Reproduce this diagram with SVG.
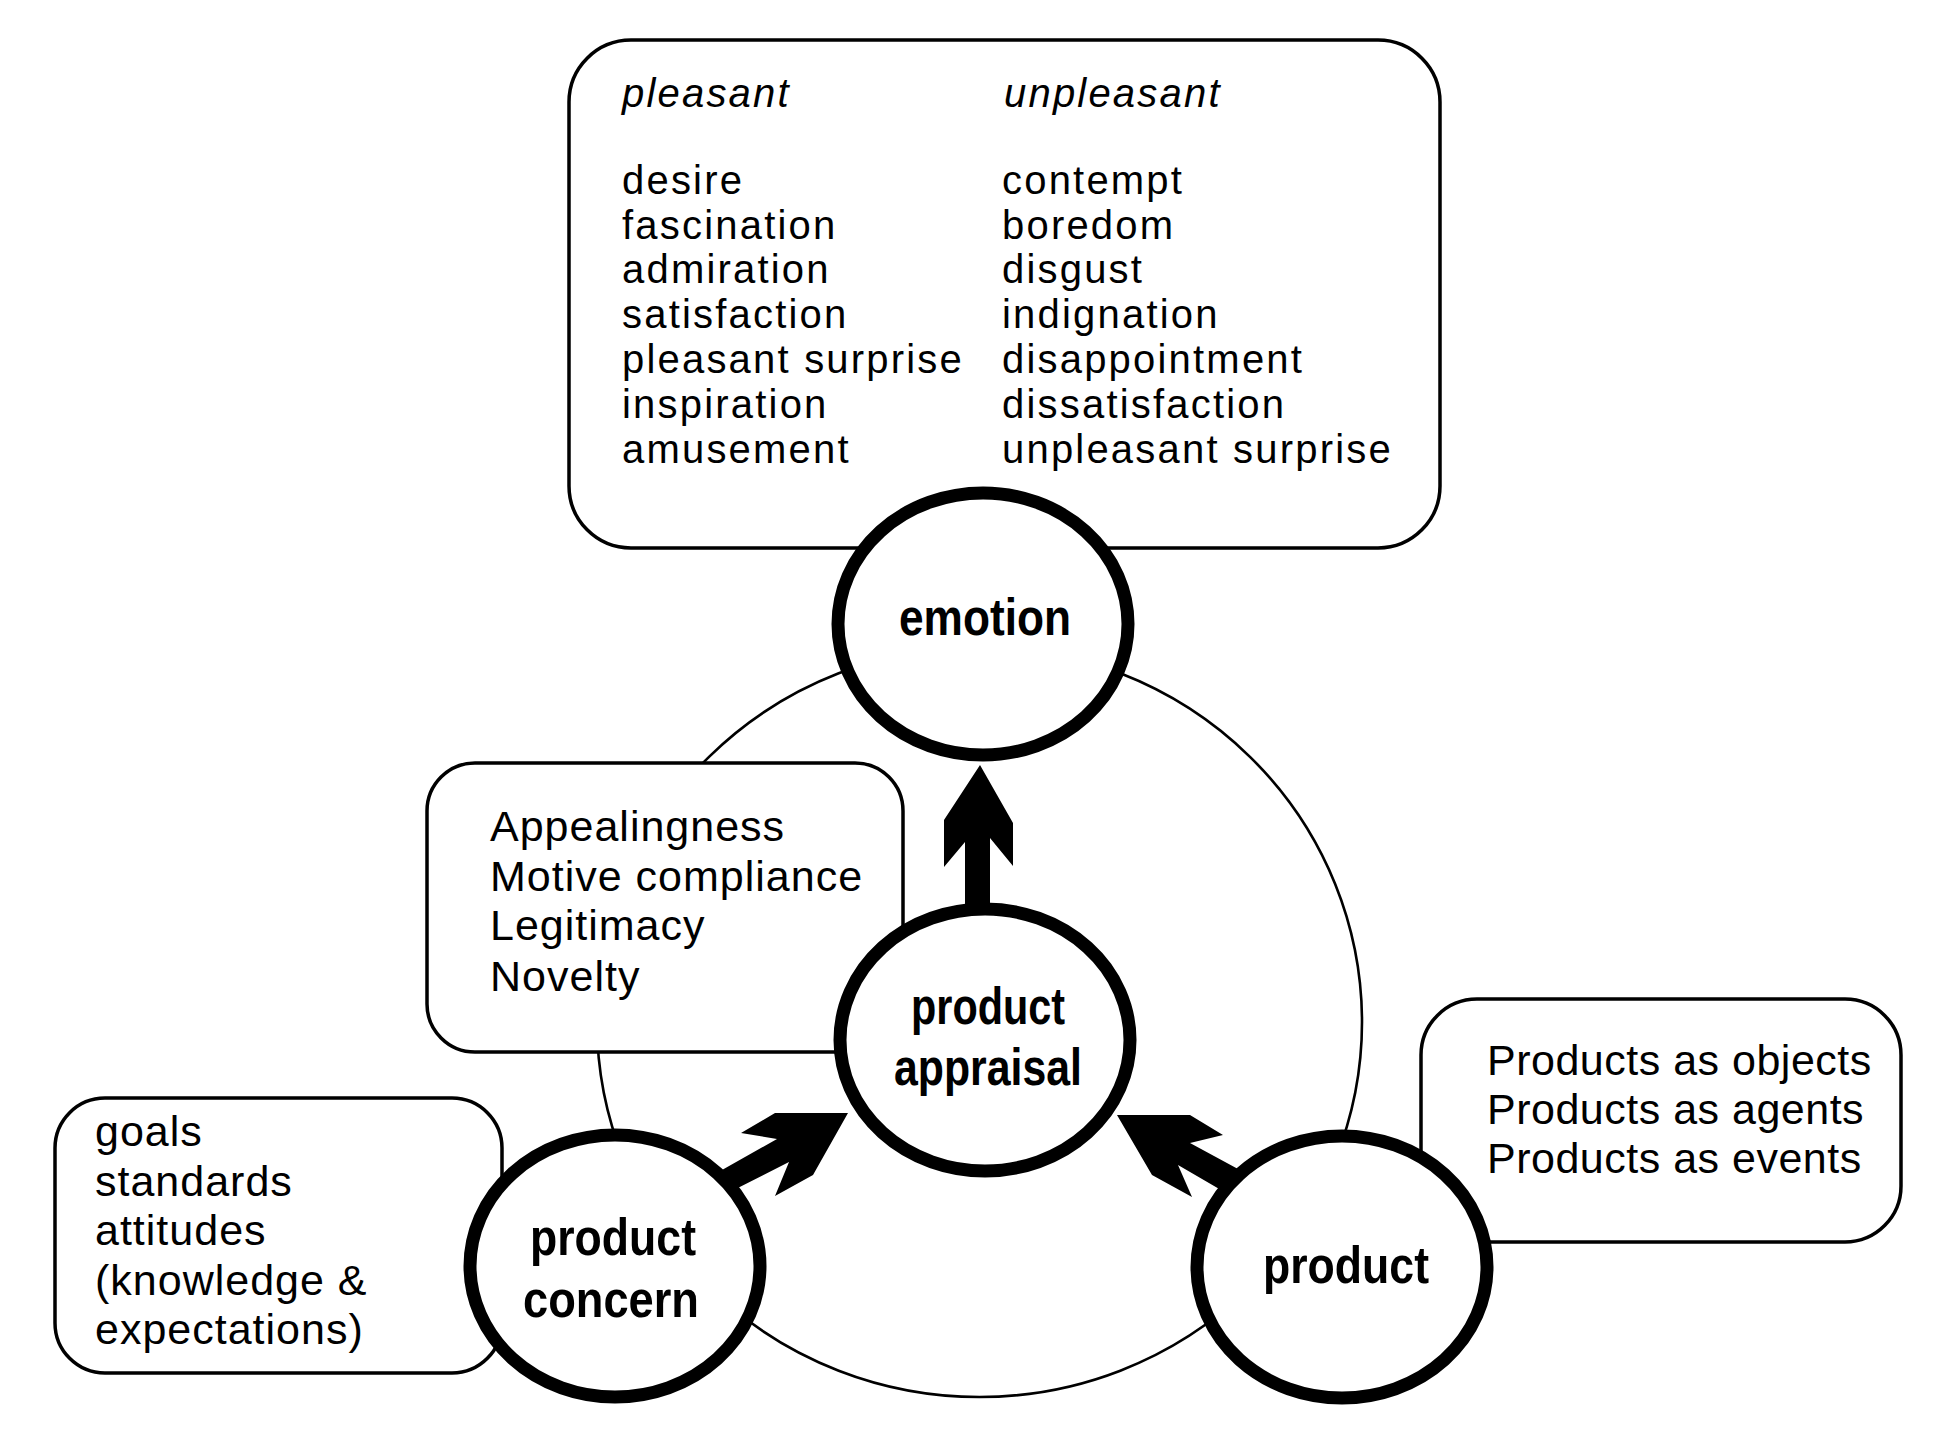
<svg xmlns="http://www.w3.org/2000/svg" width="1938" height="1432" viewBox="0 0 1938 1432">
<style>
.box{fill:#fff;stroke:#000;stroke-width:3.5}
.node{fill:#fff;stroke:#000;stroke-width:13}
.ring{fill:none;stroke:#000;stroke-width:2.6}
.t1{font-family:"Liberation Sans",Arial,sans-serif;font-size:40px;letter-spacing:2.2px;fill:#000}
.t1i{font-style:italic}
.t2{font-family:"Liberation Sans",Arial,sans-serif;font-size:43px;letter-spacing:1px;fill:#000}
.t3{letter-spacing:0.5px}
.lab{font-family:"Liberation Sans",Arial,sans-serif;font-size:52px;font-weight:bold;fill:#000;text-anchor:middle}
.arrow{fill:#000;stroke:none}
</style>
<rect width="1938" height="1432" fill="#fff"/>
<ellipse id="cycle" class="ring" cx="979.5" cy="1022" rx="382.5" ry="375"/>

<g id="box-emotions">
<rect class="box" x="569" y="40" width="871" height="508" rx="62" ry="62"/>
<text class="t1" x="622" y="107"><tspan class="t1i">pleasant</tspan></text>
<text class="t1" x="1004" y="107"><tspan class="t1i">unpleasant</tspan></text>
<text class="t1" x="622" y="194">desire</text>
<text class="t1" x="622" y="239">fascination</text>
<text class="t1" x="622" y="283">admiration</text>
<text class="t1" x="622" y="328">satisfaction</text>
<text class="t1" x="622" y="373">pleasant surprise</text>
<text class="t1" x="622" y="418">inspiration</text>
<text class="t1" x="622" y="463">amusement</text>
<text class="t1" x="1002" y="194">contempt</text>
<text class="t1" x="1002" y="239">boredom</text>
<text class="t1" x="1002" y="283">disgust</text>
<text class="t1" x="1002" y="328">indignation</text>
<text class="t1" x="1002" y="373">disappointment</text>
<text class="t1" x="1002" y="418">dissatisfaction</text>
<text class="t1" x="1002" y="463">unpleasant surprise</text>
</g>

<g id="box-appraisal">
<rect class="box" x="427" y="763" width="476" height="289" rx="48" ry="48"/>
<text class="t2" x="490" y="841">Appealingness</text>
<text class="t2" x="490" y="891">Motive compliance</text>
<text class="t2" x="490" y="940">Legitimacy</text>
<text class="t2" x="490" y="991">Novelty</text>
</g>

<g id="box-concern">
<rect class="box" x="55" y="1098" width="447" height="275" rx="50" ry="50"/>
<text class="t2" x="95" y="1146">goals</text>
<text class="t2" x="95" y="1196">standards</text>
<text class="t2" x="95" y="1245">attitudes</text>
<text class="t2" x="95" y="1295">(knowledge &amp;</text>
<text class="t2" x="95" y="1344">expectations)</text>
</g>

<g id="box-product">
<rect class="box" x="1421" y="999" width="480" height="243" rx="56" ry="56"/>
<text class="t2 t3" x="1487" y="1075">Products as objects</text>
<text class="t2 t3" x="1487" y="1124">Products as agents</text>
<text class="t2 t3" x="1487" y="1173">Products as events</text>
</g>

<g id="connectors">
<polygon class="arrow" points="980,765 1013,823 1013,866 990,838 990,930 965,930 965,842 944,867 944,820"/>
<polygon class="arrow" points="848,1113 775,1113 741,1133 777,1139 699,1183 714,1200 789,1162 775,1196 813,1175"/>
<polygon class="arrow" points="1117,1115 1190,1115 1223,1135 1190,1143 1262,1182 1245,1204 1178,1165 1192,1197 1152,1175"/>
</g>

<g id="node-emotion">
<ellipse class="node" cx="983" cy="624" rx="145" ry="131"/>
<text class="lab" x="985" y="635" textLength="172" lengthAdjust="spacingAndGlyphs">emotion</text>
</g>
<g id="node-appraisal">
<ellipse class="node" cx="985" cy="1040" rx="145" ry="131"/>
<text class="lab" x="988" y="1024" textLength="154" lengthAdjust="spacingAndGlyphs">product</text>
<text class="lab" x="988" y="1085" textLength="188" lengthAdjust="spacingAndGlyphs">appraisal</text>
</g>
<g id="node-concern">
<ellipse class="node" cx="615" cy="1266" rx="145" ry="131"/>
<text class="lab" x="613" y="1255" textLength="166" lengthAdjust="spacingAndGlyphs">product</text>
<text class="lab" x="611" y="1317" textLength="176" lengthAdjust="spacingAndGlyphs">concern</text>
</g>
<g id="node-product">
<ellipse class="node" cx="1342" cy="1267" rx="145" ry="131"/>
<text class="lab" x="1346" y="1283" textLength="166" lengthAdjust="spacingAndGlyphs">product</text>
</g>
</svg>
